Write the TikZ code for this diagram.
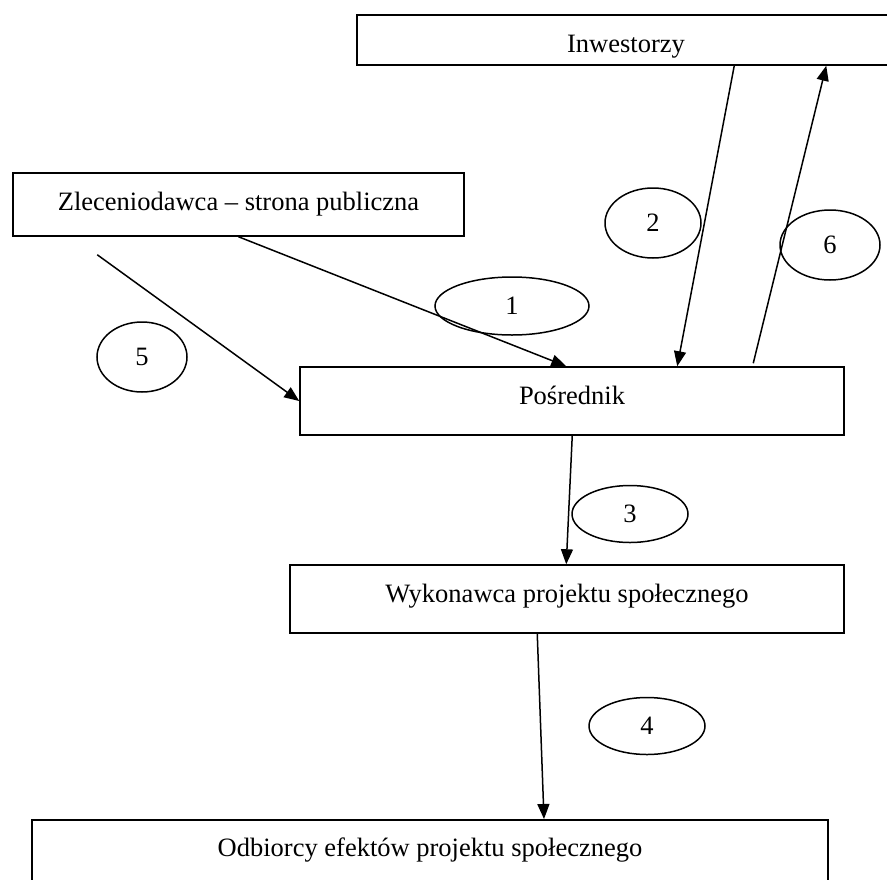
\documentclass[tikz,border=0pt]{standalone}
\usepackage{fontspec}
\setmainfont{Liberation Serif}
\usepackage{tikz}
\usetikzlibrary{positioning, arrows.meta, shapes, calc}

\begin{document}
\begin{tikzpicture}[x=1pt, y=-1pt, line width=1.5pt,
  font=\fontsize{26.5pt}{30pt}\selectfont,
  box/.style={draw, rectangle, inner sep=0pt, text height=19pt},
  num/.style={draw, ellipse, inner sep=0pt},
  flow/.style={-{Triangle[length=15pt, width=12pt]}}]
\useasboundingbox (0,0) rectangle (887,879);

% Participants
\node[box, minimum width=538, minimum height=50, text height=24pt, text depth=0pt] (inwest) at (626, 40) {Inwestorzy};
\node[box, minimum width=451, minimum height=63, text depth=8pt] (zlec) at (238.5, 204.5) {Zleceniodawca -- strona publiczna};
\node[box, minimum width=544, minimum height=68, text depth=13pt] (posr) at (572, 401) {Pośrednik};
\node[box, minimum width=554, minimum height=68, text depth=13pt] (wyk) at (567, 599) {Wykonawca projektu społecznego};
\node[box, anchor=north, minimum width=796, minimum height=80, text depth=25pt] (odb) at (430, 819) {Odbiorcy efektów projektu społecznego};

% Step numbers
\node[num, minimum width=154, minimum height=58] (n1) at (512, 306) {1};
\node[num, minimum width=96, minimum height=70] (n2) at (653, 223) {2};
\node[num, minimum width=116, minimum height=57] (n3) at (630, 514) {3};
\node[num, minimum width=116, minimum height=57] (n4) at (647, 726) {4};
\node[num, minimum width=90, minimum height=70] (n5) at (142, 357) {5};
\node[num, minimum width=100, minimum height=70] (n6) at (830, 245) {6};

% Flows
\draw[flow] (zlec.south) -- ([xshift=267pt]posr.north west);
\draw[flow] ([xshift=378pt]inwest.south west) -- ([xshift=378pt]posr.north west);
\draw[flow] ([xshift=273pt]posr.south west) -- ([xshift=277pt]wyk.north west);
\draw[flow] ([xshift=248pt]wyk.south west) -- ([xshift=114pt]odb.north);
\draw[flow] ([xshift=85pt, yshift=-18pt]zlec.south west) -- (posr.west);
\draw[flow] ([xshift=454pt, yshift=3pt]posr.north west) -- ([xshift=470pt]inwest.south west);
\end{tikzpicture}
\end{document}
